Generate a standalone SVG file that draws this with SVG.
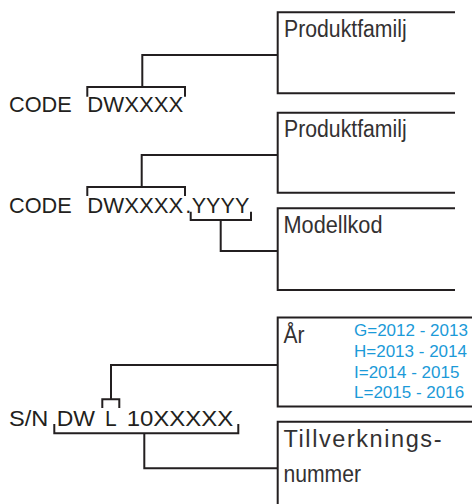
<svg xmlns="http://www.w3.org/2000/svg" width="472" height="504" viewBox="0 0 472 504">
<style>
.ln{fill:none;stroke:#231f20;stroke-width:2;stroke-linejoin:miter;stroke-linecap:butt}
.code{font-family:"Liberation Sans",Arial,sans-serif;font-size:22px;fill:#231f20}
.lbl{font-family:"Liberation Sans",Arial,sans-serif;font-size:23.5px;fill:#333132}
.blue{font-family:"Liberation Sans",Arial,sans-serif;font-size:17px;fill:#1b9ad8}
</style>
<rect width="472" height="504" fill="#ffffff"/>
<g id="box1">
<path class="ln" d="M455,12.3 H277.7 V93.3 H455"/>
<text class="lbl" x="284" y="37" textLength="122.7" lengthAdjust="spacingAndGlyphs">Produktfamilj</text>
</g>
<g id="box2">
<path class="ln" d="M455,112.7 H277.7 V192.7 H455"/>
<text class="lbl" x="284" y="137" textLength="122.7" lengthAdjust="spacingAndGlyphs">Produktfamilj</text>
</g>
<g id="box3">
<path class="ln" d="M455,208.3 H277.7 V290 H455"/>
<text class="lbl" x="283.5" y="233.3" textLength="99" lengthAdjust="spacingAndGlyphs">Modellkod</text>
</g>
<g id="box4">
<path class="ln" d="M472,317.5 H277.7 V406.5 H472"/>
<text class="lbl" x="283.5" y="343" textLength="21" lengthAdjust="spacingAndGlyphs">År</text>
<text class="blue" x="354" y="336">G=2012 - 2013</text>
<text class="blue" x="354" y="356.7">H=2013 - 2014</text>
<text class="blue" x="354" y="377.7">I=2014 - 2015</text>
<text class="blue" x="354" y="398.3">L=2015 - 2016</text>
</g>
<g id="box5">
<path class="ln" d="M472,421.7 H277.7 V504"/>
<text class="lbl" x="283.5" y="447.3" textLength="158" lengthAdjust="spacing">Tillverknings-</text>
<text class="lbl" x="283.5" y="481.7" textLength="77.5" lengthAdjust="spacingAndGlyphs">nummer</text>
</g>
<g id="code1">
<text class="code" x="9" y="112.3" textLength="62.7" lengthAdjust="spacingAndGlyphs">CODE</text>
<text class="code" x="87.3" y="112.3" textLength="96" lengthAdjust="spacingAndGlyphs">DWXXXX</text>
</g>
<g id="code2">
<text class="code" x="9" y="212.6" textLength="62.7" lengthAdjust="spacingAndGlyphs">CODE</text>
<text class="code" x="87.3" y="212.6" textLength="96" lengthAdjust="spacingAndGlyphs">DWXXXX</text>
<text class="code" x="185.3" y="212.6">.</text>
<text class="code" x="191.7" y="212.6" textLength="57.6" lengthAdjust="spacingAndGlyphs">YYYY</text>
</g>
<g id="sn">
<text class="code" x="9" y="426" textLength="39.3" lengthAdjust="spacingAndGlyphs">S/N</text>
<text class="code" x="56.7" y="426" textLength="38.3" lengthAdjust="spacingAndGlyphs">DW</text>
<text class="code" x="105" y="426" textLength="11.7" lengthAdjust="spacingAndGlyphs">L</text>
<text class="code" x="126.7" y="426" textLength="106.6" lengthAdjust="spacingAndGlyphs">10XXXXX</text>
</g>
<g id="connectors">
<path class="ln" d="M87.3,96.7 V87 H185 V96.7"/>
<path class="ln" d="M142.3,87 V55 H277.7"/>
<path class="ln" d="M87.3,196 V187 H185 V196"/>
<path class="ln" d="M141.7,187 V155 H277.7"/>
<path class="ln" d="M190.7,211.7 V220 H251 V211.7"/>
<path class="ln" d="M220.7,220 V251 H277.7"/>
<path class="ln" d="M102.3,408 V399.3 H119.3 V408"/>
<path class="ln" d="M111,399.3 V365 H277.7"/>
<path class="ln" d="M54.3,424 V433.3 H238.3 V424"/>
<path class="ln" d="M144.3,433.3 V468.3 H277.7"/>
</g>
</svg>
